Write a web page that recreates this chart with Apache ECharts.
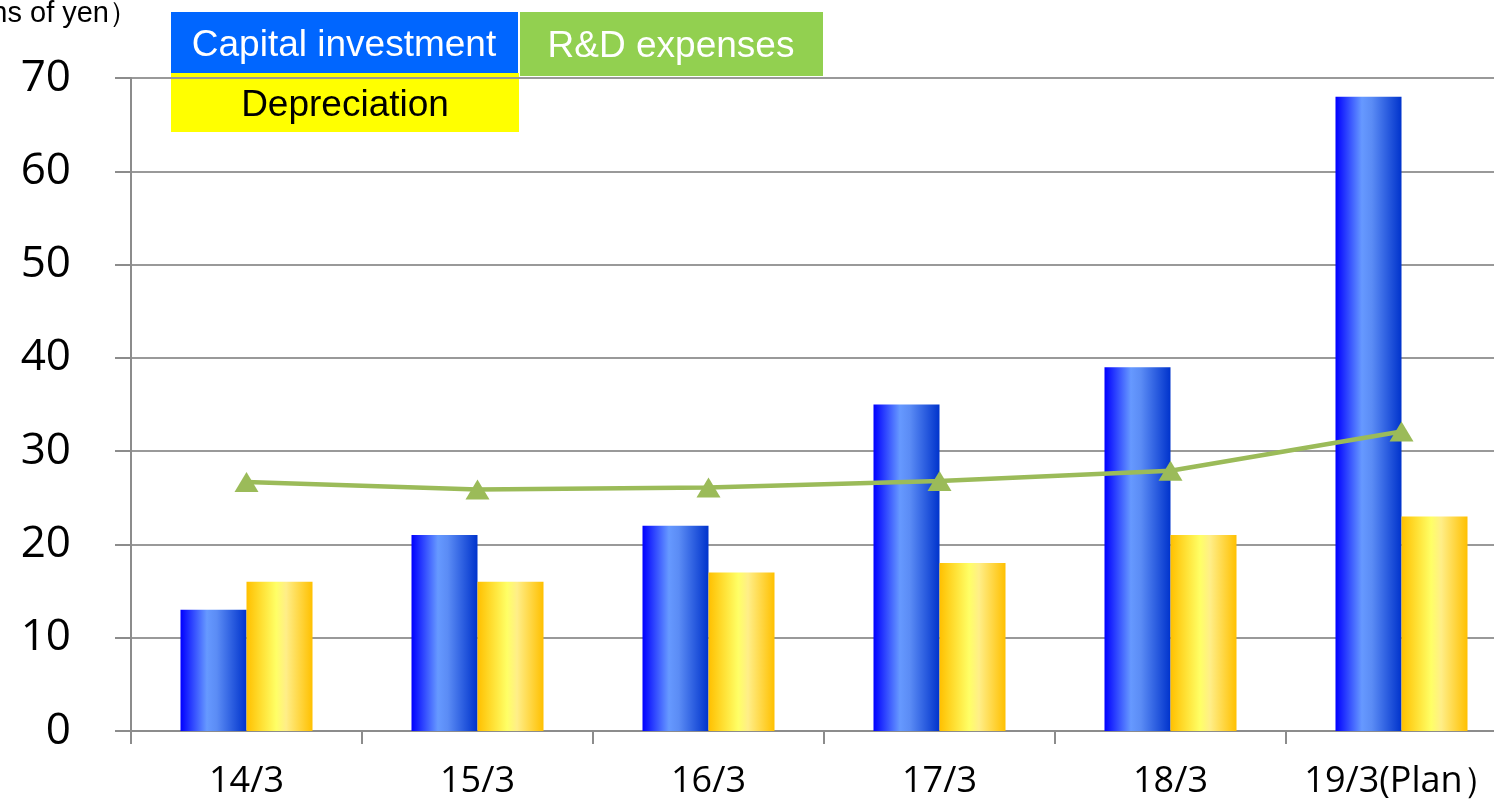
<!DOCTYPE html>
<html>
<head>
<meta charset="utf-8">
<script src="https://cdn.jsdelivr.net/npm/echarts@6/dist/echarts.min.js"></script>
<style>
    html, body { margin: 0; padding: 0; background: #fff; overflow: hidden; }
    #main { width: 1494px; height: 806px; }
</style>
</head>
<body>
<div id="main"></div>
<script>
    // data
    var categories = ["14/3", "15/3", "16/3", "17/3", "18/3", "19/3(Plan）"];
    var capitalInvestment = [13, 21, 22, 35, 39, 68];
    var depreciation = [16, 16, 17, 18, 21, 23];
    var rdExpenses = [26.7, 25.9, 26.1, 26.8, 27.9, 32.1];
    var yTicks = { min: 0, max: 70, interval: 10 };

    var myChart = echarts.init(document.getElementById("main"));

    var blueFill = new echarts.graphic.LinearGradient(0, 0, 1, 0, [
        { offset: 0, color: "#0000ff" },
        { offset: 0.4, color: "#6699ff" },
        { offset: 0.55, color: "#5b8cf5" },
        { offset: 1, color: "#0033cc" }
    ]);
    var yellowFill = new echarts.graphic.LinearGradient(0, 0, 1, 0, [
        { offset: 0, color: "#ffc000" },
        { offset: 0.45, color: "#ffff66" },
        { offset: 0.6, color: "#ffee88" },
        { offset: 1, color: "#ffc000" }
    ]);

    myChart.setOption({
        animation: false,
        grid: {
            left: 131,
            width: 1386,
            top: 78,
            bottom: 75,
            containLabel: false,
            outerBoundsMode: "none"
        },
        legend: { show: false },
        xAxis: {
            type: "category",
            data: categories,
            axisLine: { lineStyle: { color: "#8c8c8c", width: 2 } },
            axisTick: { show: true, length: 13, lineStyle: { color: "#8c8c8c", width: 2 } },
            axisLabel: {
                interval: 0,
                color: "#000",
                fontSize: 36,
                fontFamily: "Open Sans",
                margin: 33
            }
        },
        yAxis: {
            type: "value",
            min: yTicks.min,
            max: yTicks.max,
            interval: yTicks.interval,
            axisLine: { show: true, lineStyle: { color: "#8c8c8c", width: 2 } },
            axisTick: { show: true, length: 16, lineStyle: { color: "#8c8c8c", width: 2 } },
            splitLine: { lineStyle: { color: "#999", width: 2 } },
            axisLabel: {
                color: "#000",
                fontSize: 44,
                fontFamily: "Open Sans",
                margin: 60
            }
        },
        graphic: [
            {
                type: "text",
                right: 1494 - 138,
                top: -1,
                style: {
                    text: "(Billions of yen）",
                    font: "29px 'Liberation Sans'",
                    fill: "#000"
                }
            },
            {
                type: "group",
                left: 171,
                top: 12,
                children: [
                    { type: "rect", shape: { x: 0, y: 0, width: 347, height: 61 }, style: { fill: "#0066ff" } },
                    { type: "rect", shape: { x: 349, y: 0, width: 303, height: 64 }, style: { fill: "#92d050" } },
                    { type: "rect", shape: { x: 0, y: 61, width: 348, height: 59 }, style: { fill: "#ffff00" } },
                    {
                        type: "text", x: 173, y: 34,
                        style: { text: "Capital investment", font: "37px 'Liberation Sans'", fill: "#fff", align: "center", verticalAlign: "middle" }
                    },
                    {
                        type: "text", x: 500, y: 35,
                        style: { text: "R&D expenses", font: "37px 'Liberation Sans'", fill: "#fff", align: "center", verticalAlign: "middle" }
                    },
                    {
                        type: "text", x: 174, y: 94,
                        style: { text: "Depreciation", font: "37px 'Liberation Sans'", fill: "#000", align: "center", verticalAlign: "middle" }
                    }
                ]
            }
        ],
        series: [
            {
                name: "Capital investment",
                type: "bar",
                barWidth: 66,
                barGap: "0%",
                data: capitalInvestment,
                itemStyle: { color: blueFill }
            },
            {
                name: "Depreciation",
                type: "bar",
                barWidth: 66,
                barGap: "0%",
                data: depreciation,
                itemStyle: { color: yellowFill }
            },
            {
                name: "R&D expenses",
                type: "line",
                data: rdExpenses,
                z: 5,
                symbol: "triangle",
                symbolSize: [24, 20],
                lineStyle: { color: "#9bbb59", width: 4.5 },
                itemStyle: { color: "#9bbb59" }
            }
        ]
    });
</script>
</body>
</html>
